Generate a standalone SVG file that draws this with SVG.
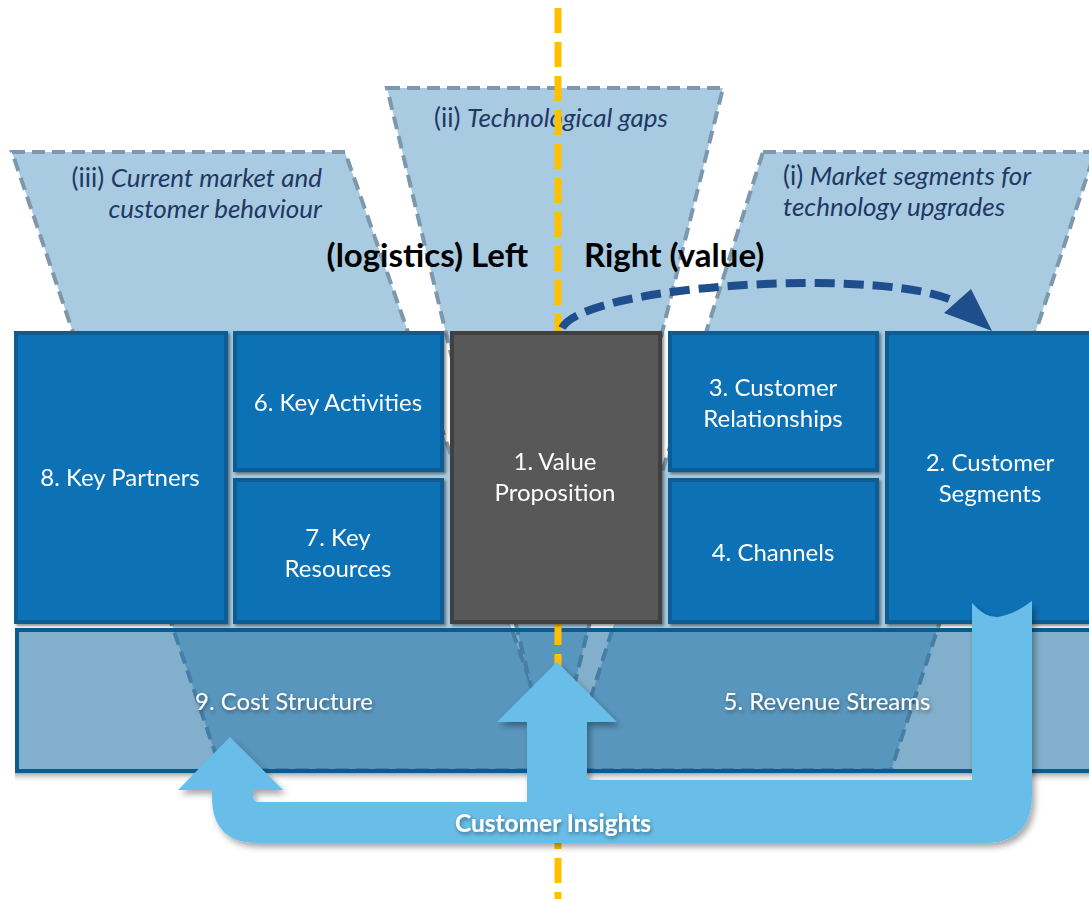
<svg xmlns="http://www.w3.org/2000/svg" width="1089" height="899" viewBox="0 0 1089 899">
<defs>
<style>
.funnel{fill:#A9CBE1;stroke:#7D98AD;stroke-width:4;stroke-dasharray:13 7}
.box{fill:#0A71B5;stroke:#0B5C94;stroke-width:4}
.vp{fill:#595959;stroke:#404040;stroke-width:4}
.lbl{font-family:Lato,"Liberation Sans",sans-serif;font-size:24px;fill:#FFFFFF;text-anchor:middle}
.flbl{font-family:Lato,"Liberation Sans",sans-serif;font-size:26px;fill:#1F3864}
.it{font-style:italic}
.head{font-family:Lato,"Liberation Sans",sans-serif;font-size:33px;font-weight:bold;fill:#000000}
</style>
<filter id="bsh" x="-10%" y="-10%" width="120%" height="120%">
<feDropShadow dx="2" dy="2" stdDeviation="1.5" flood-color="#000" flood-opacity="0.45"/>
</filter>
<filter id="ash" x="-10%" y="-10%" width="120%" height="130%">
<feDropShadow dx="3" dy="4" stdDeviation="3" flood-color="#000" flood-opacity="0.35"/>
</filter>
<filter id="tsh" x="-10%" y="-30%" width="120%" height="160%">
<feDropShadow dx="1" dy="2" stdDeviation="2" flood-color="#000" flood-opacity="0.45"/>
</filter>
<linearGradient id="barsh" x1="0" y1="0" x2="0" y2="1">
<stop offset="0" stop-color="#A8A8A8"/>
<stop offset="1" stop-color="#FFFFFF" stop-opacity="0"/>
</linearGradient>
</defs>
<rect x="0" y="0" width="1089" height="899" fill="#FFFFFF"/>

<g id="funnel-iii">
<polygon class="funnel" points="12,152 345,152 561,770 221,770"/>
<text class="flbl" text-anchor="end"><tspan x="322" y="187">(iii) <tspan class="it">Current market and</tspan></tspan><tspan class="it" x="322" y="218">customer behaviour</tspan></text>
</g>
<g id="funnel-ii">
<polygon class="funnel" points="387,88 723,88 553,770 551,770"/>
<text class="flbl" x="551" y="127" text-anchor="middle">(ii) <tspan class="it">Technological gaps</tspan></text>
</g>
<g id="funnel-i">
<polygon class="funnel" points="763,152 1095,152 891,770 568,770"/>
<text class="flbl"><tspan x="783" y="185">(i) <tspan class="it">Market segments for</tspan></tspan><tspan class="it" x="783" y="216">technology upgrades</tspan></text>
</g>

<g id="headings">
<text class="head" x="528" y="267" text-anchor="end">(logistics) Left</text>
<text class="head" x="584" y="267">Right (value)</text>
</g>

<rect x="15" y="773" width="1085" height="10" fill="url(#barsh)"/>
<g id="cost-revenue-bar">
<rect x="17" y="630" width="1085" height="141" fill="#13689D" fill-opacity="0.53" stroke="#0B5B91" stroke-width="4"/>
<text class="lbl" x="284" y="710" filter="url(#tsh)">9. Cost Structure</text>
<text class="lbl" x="827" y="710" filter="url(#tsh)">5. Revenue Streams</text>
</g>

<g id="connectors">
<line x1="558" y1="8" x2="558" y2="899" stroke="#FFC000" stroke-width="7" stroke-dasharray="25 9"/>
<path d="M562,328 C585,284 890,266 958,303" fill="none" stroke="#1F4E8C" stroke-width="8" stroke-dasharray="20 9"/>
<polygon points="992,331 944,313 971,289" fill="#1F4E8C"/>
</g>

<g id="key-partners" filter="url(#bsh)">
<rect class="box" x="16" y="333" width="210" height="289"/>
<text class="lbl" x="120" y="486">8. Key Partners</text>
</g>
<g id="key-activities" filter="url(#bsh)">
<rect class="box" x="235" y="333" width="207" height="137"/>
<text class="lbl" x="338" y="411">6. Key Activities</text>
</g>
<g id="key-resources" filter="url(#bsh)">
<rect class="box" x="235" y="480" width="207" height="142"/>
<text class="lbl"><tspan x="338" y="546">7. Key</tspan><tspan x="338" y="577">Resources</tspan></text>
</g>
<g id="value-proposition" filter="url(#bsh)">
<rect class="vp" x="452" y="333" width="208" height="289"/>
<text class="lbl"><tspan x="555" y="470">1. Value</tspan><tspan x="555" y="501">Proposition</tspan></text>
</g>
<g id="customer-relationships" filter="url(#bsh)">
<rect class="box" x="670" y="333" width="207" height="137"/>
<text class="lbl"><tspan x="773" y="396">3. Customer</tspan><tspan x="773" y="427">Relationships</tspan></text>
</g>
<g id="channels" filter="url(#bsh)">
<rect class="box" x="670" y="480" width="207" height="142"/>
<text class="lbl" x="773" y="561">4. Channels</text>
</g>
<g id="customer-segments" filter="url(#bsh)">
<rect class="box" x="887" y="333" width="215" height="289"/>
<text class="lbl"><tspan x="990" y="471">2. Customer</tspan><tspan x="990" y="502">Segments</tspan></text>
</g>

<g id="customer-insights">
<path filter="url(#ash)" fill="#69BEE9" d="M972,603 Q985,618 998,617 Q1015,614 1032,601 L1032,795 Q1032,843 984,843 L258,843 Q212,843 212,797 L212,790 L178,790 L230,737 L283,790 L253,790 L253,796 Q253,802 259,802 L527,802 L527,722 L497,722 L557,662 L617,722 L587,722 L587,774 Q587,780 593,780 L972,780 Z"/>
<text x="553" y="832" text-anchor="middle" font-family="Lato,'Liberation Sans',sans-serif" font-size="24.5" font-weight="bold" fill="#FFFFFF" filter="url(#tsh)">Customer Insights</text>
</g>
</svg>
